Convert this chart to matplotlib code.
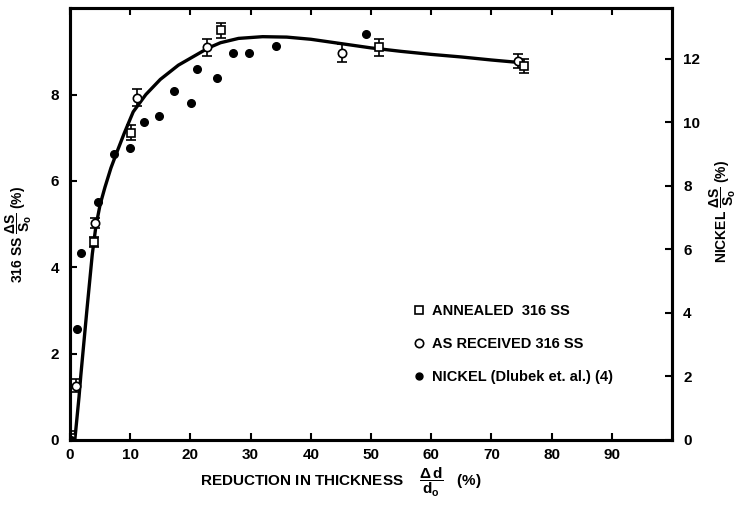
import matplotlib.pyplot as plt
from matplotlib.lines import Line2D

plt.rcParams['font.family'] = ['Liberation Sans', 'DejaVu Sans']
plt.rcParams['font.weight'] = 'bold'
plt.rcParams['axes.labelweight'] = 'bold'
plt.rcParams['mathtext.fontset'] = 'custom'
plt.rcParams['mathtext.rm'] = 'Liberation Sans:bold'
plt.rcParams['mathtext.it'] = 'Liberation Sans:bold'

# as received 316 SS (open circles), left axis
recv_x = [1.0, 4.2, 11.1, 22.8, 45.1, 74.4]
recv_y = [1.26, 5.02, 7.93, 9.09, 8.97, 8.77]
recv_err = [0.15, 0.12, 0.2, 0.19, 0.21, 0.16]

# annealed 316 SS (open squares), left axis
ann_x = [0.2, 4.0, 10.1, 25.1, 51.4, 75.4]
ann_y = [0.05, 4.58, 7.12, 9.49, 9.09, 8.67]
ann_err = [0.15, 0.12, 0.17, 0.17, 0.2, 0.16]

# nickel (Dlubek et al.), right axis
ni_x = [0.2, 1.2, 1.8, 4.7, 7.3, 10.0, 12.3, 14.8, 17.3, 20.1, 21.1, 24.4, 27.1, 29.7, 34.2, 49.2]
ni_y = [0.0, 3.5, 5.9, 7.5, 9.0, 9.2, 10.0, 10.2, 11.0, 10.6, 11.7, 11.4, 12.2, 12.2, 12.4, 12.8]

# hand drawn trend curve (left axis units)
fit_x = [0.8, 1.5, 1.8, 2.8, 3.7, 4.3, 5.0, 5.8, 6.8, 7.8, 9.0, 10.5, 12.6, 15.0,
         18.0, 21.0, 23.0, 25.0, 28.0, 32.0, 36.0, 40.0, 45.0, 50.0, 55.0, 60.0,
         65.0, 70.0, 74.0]
fit_y = [0.0, 1.0, 1.5, 3.0, 4.3, 4.95, 5.45, 5.85, 6.3, 6.67, 7.1, 7.6, 8.0, 8.35,
         8.68, 8.92, 9.08, 9.2, 9.3, 9.34, 9.33, 9.28, 9.18, 9.08, 9.0, 8.93,
         8.87, 8.8, 8.75]

fig = plt.figure(figsize=(7.4, 5.11), dpi=100)
ax = fig.add_axes([0.0946, 0.139, 0.8135, 0.845])
ax2 = ax.twinx()

ax.plot(fit_x, fit_y, color='black', lw=2.4, zorder=1)
ax.errorbar(recv_x, recv_y, yerr=recv_err, fmt='o', ms=6, mfc='white', mec='black',
            mew=1.2, ecolor='black', elinewidth=1.2, capsize=3.5, capthick=1.5, zorder=3)
ax.errorbar(ann_x, ann_y, yerr=ann_err, fmt='s', ms=6, mfc='white', mec='black',
            mew=1.2, ecolor='black', elinewidth=1.2, capsize=3.5, capthick=1.5, zorder=3)
ax2.plot(ni_x, ni_y, 'o', ms=5.5, color='black', zorder=3)

ax.set_xlim(0, 100)
ax.set_ylim(0, 10.0)
ax2.set_ylim(0, 13.6)
ax.set_xticks(range(0, 100, 10))
ax.set_yticks([0, 2, 4, 6, 8])
ax2.set_yticks([0, 2, 4, 6, 8, 10, 12])

for a in (ax, ax2):
    for s in a.spines.values():
        s.set_linewidth(2.2)
    a.tick_params(direction='in', length=5, width=1.5, labelsize=11)
ax.tick_params(axis='x', top=True, pad=6)
ax.tick_params(axis='y', pad=8)
ax2.tick_params(axis='y', pad=8)

ax.set_xlabel(r'REDUCTION IN THICKNESS    $\dfrac{\Delta\,d}{d_o}$   (%)', fontsize=11)
ax.xaxis.set_label_coords(0.45, -0.06)
ax.set_ylabel(r'316 SS $\dfrac{\Delta S}{S_o}$ (%)', fontsize=10)
ax.yaxis.set_label_coords(-0.06, 0.475)
ax2.set_ylabel(r'NICKEL $\dfrac{\Delta S}{S_o}$ (%)', fontsize=10)
ax2.yaxis.set_label_coords(1.058, 0.53)

handles = [
    Line2D([], [], ls='none', marker='s', ms=6, mfc='white', mec='black', mew=1.2),
    Line2D([], [], ls='none', marker='o', ms=6, mfc='white', mec='black', mew=1.2),
    Line2D([], [], ls='none', marker='o', ms=5, color='black'),
]
labels = ['ANNEALED  316 SS', 'AS RECEIVED 316 SS', 'NICKEL (Dlubek et. al.) (4)']
ax.legend(handles, labels, loc='upper left', bbox_to_anchor=(0.543, 0.345),
          frameon=False, fontsize=10.5, handletextpad=0.3, labelspacing=1.3,
          handlelength=1.2)

fig.savefig('out.png', dpi=100)
